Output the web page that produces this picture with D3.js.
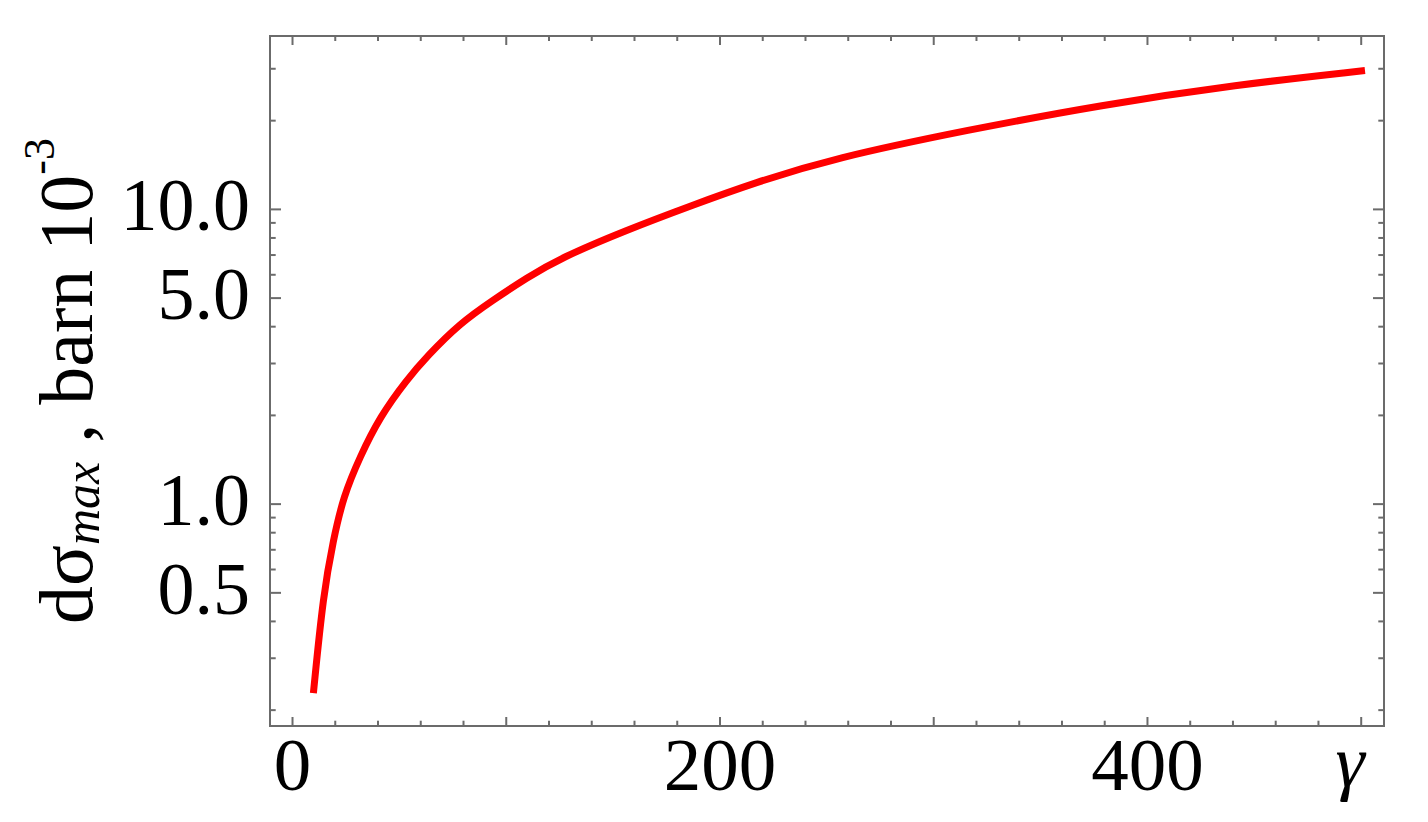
<!DOCTYPE html>
<html>
<head>
<meta charset="utf-8">
<script src="https://cdn.jsdelivr.net/npm/d3@7"></script>
<style>
    body { margin: 0; background: #fff; }
    text { font-family: "Liberation Serif", "Times New Roman", serif; fill: #000; }
</style>
</head>
<body>
<div id="main"></div>
<script>

// curve: gamma vs d sigma max (barn 1e-3)
const gammaVals = [10, 14.64, 19.32, 24.0, 31.81, 41.17, 53.66, 63.02, 78.6, 94.18, 109.8, 125.4, 156.6, 187.7, 215.8, 253.5, 316.2, 378.9, 441.5, 502];
const sigmaVals = [0.2274, 0.4934, 0.7529, 1.0562, 1.4434, 1.9733, 2.629, 3.1536, 4.0948, 4.9114, 5.834, 6.8035, 8.4862, 10.317, 12.225, 14.862, 18.536, 22.54, 26.36, 29.47];

// ticks
const xMajor = [0, 100, 200, 300, 400, 500];
const xMinor = [20, 40, 60, 80, 120, 140, 160, 180, 220, 240, 260, 280, 320, 340, 360, 380, 420, 440, 460, 480];
const xLabels = [0, 200, 400];
const yMajor = [0.5, 1, 5, 10];
const yMinor = [0.2, 0.3, 0.4, 0.6, 0.7, 0.8, 0.9, 2, 3, 4, 6, 7, 8, 9, 20, 30];

const w = 1428;
const h = 822;
const plotLeft = 270, plotRight = 1384, plotTop = 36, plotBottom = 726;
const frameColor = "#6b6b6b";

const svg = d3.select("#main").append("svg").attr("width", w).attr("height", h);

const xScale = d3.scaleLinear()
    .domain([-10.3, 510.9])
    .range([plotLeft, plotRight]);

const yScale = d3.scaleLog()
    .domain([0.176, 38.6])
    .range([plotBottom, plotTop]);

// frame
svg.append("rect")
    .attr("x", plotLeft)
    .attr("y", plotTop)
    .attr("width", plotRight - plotLeft)
    .attr("height", plotBottom - plotTop)
    .attr("fill", "none")
    .attr("stroke", frameColor)
    .attr("stroke-width", 2);

function addAxis(axis, tx, ty, cls) {
    const g = svg.append("g")
        .attr("class", cls)
        .attr("transform", "translate(" + tx + "," + ty + ")")
        .call(axis);
    g.select(".domain").remove();
    g.selectAll(".tick line").attr("stroke", frameColor).attr("stroke-width", 2);
    return g;
}

// x axis (bottom, with labels) and its mirror on top
const xAxisMajor = addAxis(
    d3.axisBottom(xScale).tickValues(xMajor).tickSize(-9)
        .tickFormat(d => xLabels.includes(d) ? d : ""),
    0, plotBottom, "x-axis");
xAxisMajor.selectAll(".tick text")
    .attr("y", 64)
    .attr("dy", 0)
    .style("font-size", "75px")
    .style("font-family", "Liberation Serif");

addAxis(d3.axisBottom(xScale).tickValues(xMinor).tickSize(-5.3).tickFormat(""), 0, plotBottom, "x-minor");
addAxis(d3.axisTop(xScale).tickValues(xMajor).tickSize(-9).tickFormat(""), 0, plotTop, "x-top");
addAxis(d3.axisTop(xScale).tickValues(xMinor).tickSize(-5).tickFormat(""), 0, plotTop, "x-top-minor");

// y axis (left, with labels) and its mirror on the right
const yAxisMajor = addAxis(
    d3.axisLeft(yScale).tickValues(yMajor).tickSize(-11).tickFormat(d3.format(".1f")),
    plotLeft, 0, "y-axis");
yAxisMajor.selectAll(".tick text")
    .attr("x", -20)
    .attr("dy", 21)
    .style("font-size", "74px")
    .style("font-family", "Liberation Serif");

addAxis(d3.axisLeft(yScale).tickValues(yMinor).tickSize(-5.7).tickFormat(""), plotLeft, 0, "y-minor");
addAxis(d3.axisRight(yScale).tickValues(yMajor).tickSize(-11).tickFormat(""), plotRight, 0, "y-right");
addAxis(d3.axisRight(yScale).tickValues(yMinor).tickSize(-5.7).tickFormat(""), plotRight, 0, "y-right-minor");

// the curve
const line = d3.line()
    .x((d, i) => xScale(gammaVals[i]))
    .y(d => yScale(d))
    .curve(d3.curveBasis);

svg.append("path")
    .datum(sigmaVals)
    .attr("d", line)
    .attr("fill", "none")
    .attr("stroke", "#ff0000")
    .attr("stroke-width", 7);

// x label
svg.append("text")
    .attr("x", 1350)
    .attr("y", 786)
    .attr("text-anchor", "middle")
    .style("font-size", "74px")
    .style("font-style", "italic")
    .text("γ");

// y label
const ylab = svg.append("text")
    .attr("transform", "translate(92," + ((plotTop + plotBottom) / 2) + ") rotate(-90)")
    .attr("text-anchor", "middle")
    .style("font-size", "76px");
ylab.append("tspan").text("dσ");
ylab.append("tspan").attr("dy", 7).style("font-size", "50px").style("font-style", "italic").text("max");
ylab.append("tspan").attr("dy", -7).text(" , barn 10");
ylab.append("tspan").attr("dy", -38).style("font-size", "44px").text("-3");

</script>
</body>
</html>
